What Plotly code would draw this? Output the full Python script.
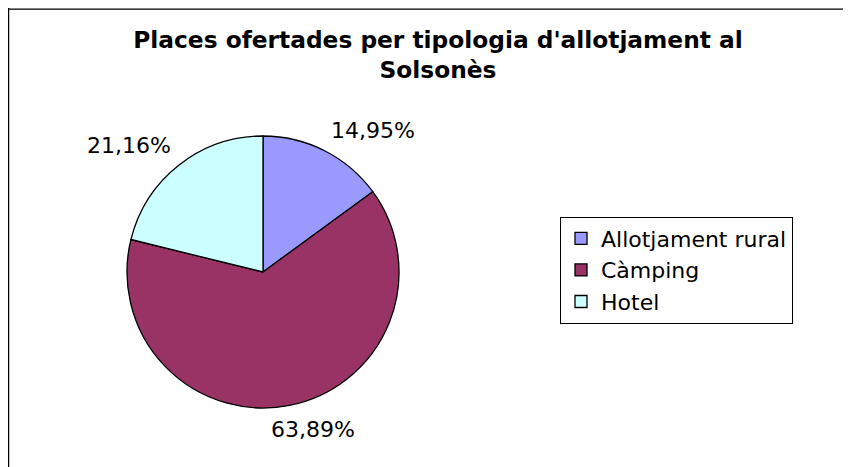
import math
import plotly.graph_objects as go

categories = ["Allotjament rural", "Càmping", "Hotel"]
shares = [14.95, 63.89, 21.16]
label_texts = ["14,95%", "63,89%", "21,16%"]
colors = ["#9999FF", "#993366", "#CCFFFF"]

W, H = 843, 459
cx, cy, r = 255, 264, 136

fig = go.Figure(go.Pie(
    labels=categories,
    values=shares,
    textinfo="none",
    marker=dict(colors=colors, line=dict(color="#000000", width=1.3)),
    sort=False,
    direction="clockwise",
    rotation=0,
    hole=0,
    domain=dict(x=[(cx - r) / W, (cx + r) / W], y=[1 - (cy + r) / H, 1 - (cy - r) / H]),
    showlegend=True,
))

# data labels placed just outside each slice, at the slice's mid-angle
total = sum(shares)
annotations = []
acc = 0.0
for val, txt in zip(shares, label_texts):
    mid = (acc + val / 2) / total * 2 * math.pi
    acc += val
    s, c = math.sin(mid), math.cos(mid)
    rr = r + 10
    px = cx + rr * s
    py = cy - rr * c
    xshift = 0
    if abs(s) < 0.3:
        xa = "center"
        xshift = s * 110
    else:
        xa = "left" if s > 0 else "right"
    if c > 0:
        ya, yshift = "bottom", -3
    else:
        ya, yshift = "top", 0
    annotations.append(dict(
        text=txt, x=px / W, y=1 - py / H, xref="paper", yref="paper",
        xanchor=xa, yanchor=ya, xshift=xshift, yshift=yshift, showarrow=False,
        font=dict(family="DejaVu Sans", size=22, color="#000000"),
    ))

fig.update_layout(
    width=W, height=H,
    margin=dict(l=0, r=0, t=0, b=0),
    paper_bgcolor="white",
    plot_bgcolor="white",
    font=dict(family="DejaVu Sans", color="#000000"),
    title=dict(
        text="<b>Places ofertades per tipologia d'allotjament al<br>Solsonès</b>",
        x=430 / W, xanchor="center",
        y=1 - 40 / H, yanchor="top",
        font=dict(family="DejaVu Sans", size=23.3, color="#000000"),
    ),
    legend=dict(
        x=552 / W, xanchor="left",
        y=1 - 262 / H, yanchor="middle",
        bordercolor="#000000", borderwidth=1,
        bgcolor="white",
        font=dict(family="DejaVu Sans", size=22, color="#000000"),
        tracegroupgap=0,
    ),
    annotations=annotations,
    shapes=[
        dict(type="line", xref="paper", yref="paper", x0=0, x1=1, y0=1 - 1.2 / H, y1=1 - 1.2 / H,
             line=dict(color="#000000", width=1.3)),
        dict(type="line", xref="paper", yref="paper", x0=0.6 / W, x1=0.6 / W, y0=0, y1=1,
             line=dict(color="#000000", width=1.3)),
    ],
)

fig.write_html("out.html")
